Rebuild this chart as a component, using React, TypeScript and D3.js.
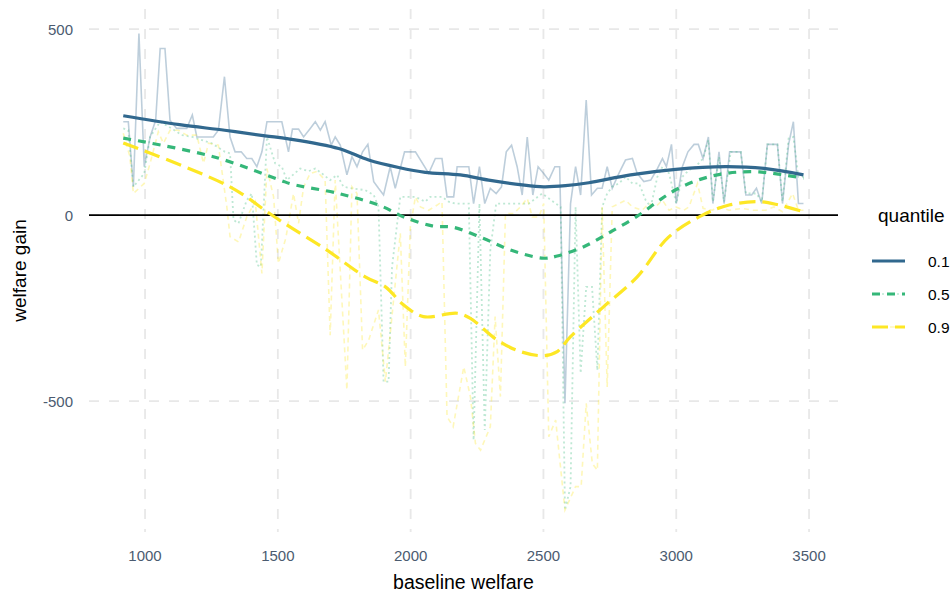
import React from "react";
import * as d3 from "d3";

// ---- data ----
const xTicks = [1000, 1500, 2000, 2500, 3000, 3500];
const yTicks = [-500, 0, 500];
const quantiles = ["0.1", "0.5", "0.9"];

const raw01: [number, number][] = [
  [918,251],[937,251],[956,76],[977,488],[997,130],[1019,210],[1040,255],[1057,448],[1075,448],[1094,255],
  [1119,233],[1157,233],[1178,269],[1195,210],[1257,210],[1276,228],[1299,372],[1320,210],[1339,170],[1362,170],
  [1383,152],[1402,152],[1421,130],[1440,170],[1459,251],[1515,251],[1540,170],[1555,231],[1578,231],[1597,210],
  [1622,233],[1641,251],[1660,228],[1678,251],[1701,188],[1716,210],[1735,188],[1760,108],[1779,157],[1798,130],
  [1819,170],[1839,190],[1861,90],[1879,72],[1898,54],[1923,130],[1942,72],[1977,170],[2018,170],[2068,112],
  [2093,152],[2118,152],[2137,49],[2162,49],[2175,130],[2219,130],[2237,31],[2259,130],[2279,31],[2300,72],
  [2322,58],[2342,76],[2360,170],[2380,188],[2401,130],[2420,54],[2439,210],[2460,54],[2480,130],[2501,112],
  [2520,94],[2543,130],[2561,130],[2581,-506],[2602,31],[2621,130],[2640,54],[2661,309],[2681,54],[2703,72],
  [2721,72],[2740,130],[2759,72],[2784,112],[2809,148],[2835,152],[2853,112],[2878,90],[2904,94],[2929,125],
  [2948,152],[2963,130],[2982,190],[3000,31],[3023,130],[3044,170],[3067,190],[3083,190],[3101,152],[3121,210],
  [3138,31],[3161,170],[3180,31],[3201,170],[3243,170],[3262,54],[3284,54],[3302,72],[3322,31],[3343,190],
  [3381,190],[3400,31],[3423,190],[3441,251],[3460,31],[3479,31]
];

const raw05: [number, number][] = [
  [918,233],[937,228],[956,76],[997,112],[1019,210],[1057,251],[1100,233],[1138,215],[1178,210],[1251,193],
  [1301,170],[1320,166],[1333,-13],[1352,-22],[1383,40],[1402,58],[1421,-134],[1436,-139],[1459,210],[1490,139],
  [1515,130],[1534,94],[1560,110],[1584,125],[1615,118],[1641,125],[1666,112],[1697,94],[1723,108],[1747,76],
  [1779,72],[1829,67],[1861,54],[1879,22],[1898,-448],[1917,-448],[1930,-139],[1961,49],[2018,49],[2055,36],
  [2074,49],[2118,49],[2143,36],[2168,31],[2219,31],[2237,-605],[2259,31],[2279,-578],[2300,-94],[2322,31],
  [2357,31],[2445,31],[2495,58],[2546,31],[2565,22],[2581,-793],[2602,-730],[2621,22],[2640,-425],[2661,-193],
  [2683,-193],[2703,-417],[2721,22],[2740,58],[2759,76],[2784,85],[2809,103],[2835,85],[2860,85],[2885,40],
  [2904,22],[2929,103],[2948,130],[2973,112],[3000,31],[3023,103],[3048,121],[3073,130],[3101,152],[3121,202],
  [3138,36],[3161,157],[3180,36],[3205,170],[3243,170],[3262,58],[3302,58],[3322,36],[3343,190],[3381,190],
  [3400,36],[3423,206],[3441,210],[3460,103],[3479,103]
];

const raw09: [number, number][] = [
  [918,220],[943,157],[956,58],[997,85],[1019,139],[1050,224],[1069,193],[1094,228],[1126,228],[1157,215],
  [1195,215],[1220,139],[1239,193],[1276,188],[1308,22],[1320,-58],[1352,-72],[1383,-5],[1415,36],[1440,-157],
  [1459,125],[1484,49],[1502,-130],[1530,-62],[1559,58],[1578,-22],[1597,76],[1622,112],[1647,117],[1678,94],
  [1697,-323],[1716,94],[1760,-470],[1779,76],[1798,58],[1819,-363],[1842,-336],[1879,-255],[1905,-448],[1942,-184],
  [1961,-49],[1980,-408],[1999,-31],[2018,49],[2037,22],[2068,13],[2100,27],[2118,36],[2137,-542],[2160,-569],
  [2200,-408],[2225,-488],[2244,-614],[2263,-632],[2300,-569],[2318,-273],[2338,-488],[2357,4],[2388,4],[2413,22],
  [2439,45],[2458,-5],[2483,-5],[2501,31],[2520,-596],[2546,-551],[2581,-793],[2621,-730],[2642,-730],[2661,-506],
  [2684,-668],[2703,-686],[2721,22],[2740,-462],[2759,22],[2784,31],[2809,40],[2835,22],[2872,13],[2897,31],
  [2922,22],[2948,40],[2973,13],[2998,22],[3029,13],[3048,22],[3080,85],[3101,18],[3136,13],[3161,22],
  [3199,13],[3249,18],[3287,13],[3337,13],[3368,22],[3400,9],[3438,58],[3460,13],[3479,13]
];

const smooth01: [number, number][] = [
  [918,267],[1130,243],[1300,228],[1452,213],[1540,205],[1729,179],[1842,148],[1955,128],[2055,115],[2187,108],
  [2294,94],[2420,81],[2501,76],[2583,79],[2671,87],[2828,108],[2998,123],[3186,130],[3337,125],[3479,108]
];

const smooth05: [number, number][] = [
  [918,207],[1257,157],[1509,94],[1553,83],[1729,58],[1890,24],[1974,-5],[2081,-29],[2162,-33],[2275,-63],
  [2376,-94],[2501,-116],[2552,-110],[2652,-85],[2753,-45],[2853,-3],[2929,36],[2998,68],[3090,96],[3186,112],
  [3312,116],[3479,99]
];

const smooth09: [number, number][] = [
  [918,194],[1320,76],[1459,9],[1528,-24],[1680,-92],[1829,-166],[1905,-193],[1974,-242],[2048,-273],[2175,-264],
  [2225,-278],[2326,-336],[2413,-367],[2501,-378],[2552,-367],[2602,-327],[2727,-246],[2853,-166],[2970,-60],[3099,0],
  [3199,27],[3312,36],[3387,27],[3479,9]
];

// ---- styling ----
const colors = ["#31688e", "#35b779", "#fde725"];
const smoothDash = ["none", "8,7", "16,7"];
const rawDash = ["none", "2,3", "5,4"];

export default function App() {
  const W = 952, H = 593;
  const x = d3.scaleLinear().domain([789, 3609]).range([89, 838]);
  const y = d3.scaleLinear().domain([-852, 554]).range([532, 9]);
  const rawLine = d3.line<[number, number]>().x(d => x(d[0])).y(d => y(d[1]));
  const smLine = d3.line<[number, number]>().x(d => x(d[0])).y(d => y(d[1])).curve(d3.curveCatmullRom.alpha(0.5));
  const raws = [raw01, raw05, raw09];
  const smooths = [smooth01, smooth05, smooth09];
  const font = "'Liberation Sans', Arial, sans-serif";
  const tickColor = "#4b5b70";
  const gridColor = "#e8e8e8";
  const [x0, x1] = x.range();
  const [yb, yt] = y.range();
  const legendYs = [261, 294, 327];

  return (
    <svg width={W} height={H} style={{ position: "absolute", left: 0, top: 0, background: "#fff" }} fontFamily={font}>
      {/* grid */}
      {xTicks.map(t => (
        <line key={"gx" + t} x1={x(t)} x2={x(t)} y1={yt} y2={yb} stroke={gridColor} strokeWidth={1.8} strokeDasharray="10,10" />
      ))}
      {yTicks.map(t => (
        <line key={"gy" + t} x1={x0} x2={x1} y1={y(t)} y2={y(t)} stroke={gridColor} strokeWidth={1.8} strokeDasharray="10,10" />
      ))}
      {/* raw lines */}
      {raws.map((r, i) => (
        <path key={"r" + i} d={rawLine(r) || ""} fill="none" stroke={colors[i]} strokeOpacity={0.32}
          strokeWidth={i === 1 ? 1.8 : 1.6} strokeDasharray={rawDash[i]} />
      ))}
      {/* zero line */}
      <line x1={x0} x2={x1} y1={y(0)} y2={y(0)} stroke="#000" strokeWidth={1.6} />
      {/* smooth lines */}
      {smooths.map((s, i) => (
        <path key={"s" + i} d={smLine(s) || ""} fill="none" stroke={colors[i]} strokeWidth={3.2}
          strokeDasharray={smoothDash[i]} />
      ))}
      {/* axis tick labels */}
      {xTicks.map(t => (
        <text key={"tx" + t} x={x(t)} y={555} textAnchor="middle" dominantBaseline="central" fontSize={15} fill={tickColor}>{t}</text>
      ))}
      {yTicks.map(t => (
        <text key={"ty" + t} x={73} y={y(t)} textAnchor="end" dominantBaseline="central" fontSize={15} fill={tickColor}>{t}</text>
      ))}
      {/* axis titles */}
      <text x={(x0 + x1) / 2} y={582} textAnchor="middle" dominantBaseline="central" fontSize={19.5} fill="#000">baseline welfare</text>
      <text transform={`translate(19,${(yt + yb) / 2}) rotate(-90)`} textAnchor="middle" dominantBaseline="central" fontSize={19} fill="#000">welfare gain</text>
      {/* legend */}
      <text x={878} y={215} dominantBaseline="central" fontSize={19} fill="#000">quantile</text>
      {quantiles.map((q, i) => (
        <g key={"lg" + q}>
          <line x1={872} x2={905} y1={legendYs[i]} y2={legendYs[i]} stroke={colors[i]} strokeOpacity={0.32}
            strokeWidth={1.6} strokeDasharray={rawDash[i]} />
          <line x1={872} x2={905} y1={legendYs[i]} y2={legendYs[i]} stroke={colors[i]} strokeWidth={3.2}
            strokeDasharray={smoothDash[i]} />
          <text x={928} y={legendYs[i]} dominantBaseline="central" fontSize={15.5} fill="#000">{q}</text>
        </g>
      ))}
    </svg>
  );
}
